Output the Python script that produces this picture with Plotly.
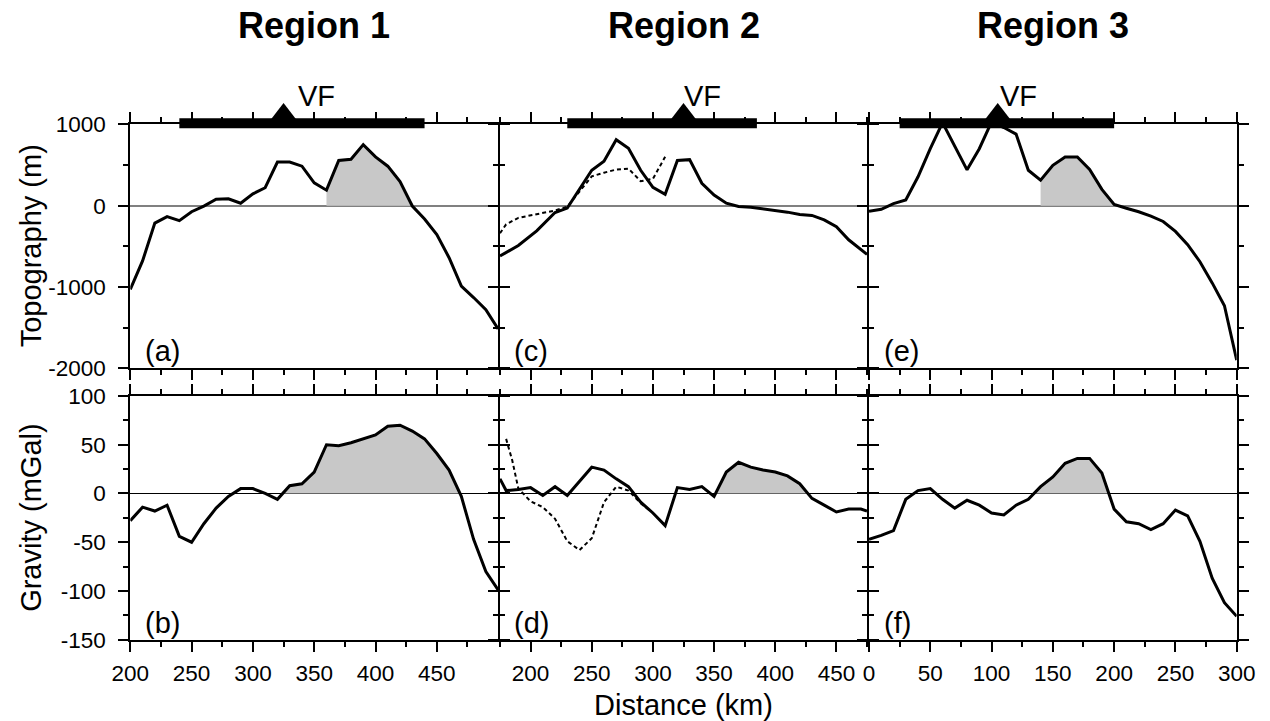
import numpy as np
import plotly.graph_objects as go

W, H = 1270, 721
FONT = "Liberation Sans, Arial, Helvetica, sans-serif"

# ---------------- data ----------------
regions = ["Region 1", "Region 2", "Region 3"]
panel_letters = ["(a)", "(b)", "(c)", "(d)", "(e)", "(f)"]

r1_x = [200, 210, 220, 230, 240, 250, 260, 270, 280, 290, 300, 310, 320, 330, 340, 350,
        360, 370, 380, 390, 400, 410, 420, 430, 440, 450, 460, 470, 480, 490, 500]
r1_topo = [-1030, -680, -215, -135, -185, -75, -5, 80, 85, 30, 145, 220, 535, 535, 485, 280,
           190, 555, 570, 750, 600, 485, 295, -5, -165, -355, -640, -990, -1130, -1280, -1515]
r1_grav = [-28, -14, -18, -12, -44, -50, -31, -15, -3, 5, 5, 0, -6, 8, 10, 22,
           50, 49, 52, 56, 60, 69, 70, 64, 56, 41, 24, -3, -47, -80, -99]

r2_topo_x = [175, 190, 205, 220, 230, 240, 250, 260, 270, 280, 290, 300, 310, 320, 330, 340,
             350, 360, 370, 380, 390, 400, 410, 420, 430, 440, 450, 460, 475]
r2_topo = [-620, -490, -310, -85, -30, 210, 435, 545, 810, 705, 435, 225, 140, 555, 565, 275,
           130, 30, -10, -20, -40, -55, -80, -110, -120, -175, -260, -420, -600]
r2_topo_alt_x = [175, 180, 190, 200, 210, 220, 230, 240, 250, 260, 270, 280, 290, 300, 310]
r2_topo_alt = [-340, -230, -150, -118, -95, -60, -12, 170, 360, 405, 443, 455, 300, 330, 600]

r2_grav_x = [175, 180, 190, 200, 210, 220, 230, 240, 250, 260, 270, 280, 290, 300, 310, 320,
             330, 340, 350, 360, 370, 380, 390, 400, 410, 420, 430, 440, 450, 460, 470, 475]
r2_grav = [15, 3, 4, 6, -2, 7, -2, 12, 27, 24, 15, 7, -9, -20, -33, 6,
           4, 7, -3, 22, 32, 27, 24, 22, 18, 10, -5, -12, -19, -16, -16, -18]
r2_grav_alt_x = [180, 185, 190, 200, 210, 220, 230, 240, 250, 260, 270, 280, 290, 300]
r2_grav_alt = [56, 34, 5, -8, -14, -26, -49, -58, -46, -9, 7, 3, -10, -20]

r3_x = [0, 10, 20, 30, 40, 50, 60, 70, 80, 90, 100, 110, 120, 130, 140, 150,
        160, 170, 180, 190, 200, 210, 220, 230, 240, 250, 260, 270, 280, 290, 300]
r3_topo = [-70, -45, 25, 70, 355, 700, 1020, 730, 440, 700, 1030, 960, 880, 435, 313, 496,
           598, 598, 444, 200, 15, -32, -75, -130, -195, -317, -480, -690, -950, -1230, -1900]
r3_grav = [-47, -43, -38, -6, 3, 5, -6, -15, -7, -12, -20, -22, -12, -6, 7, 17,
           31, 36, 36, 21, -16, -29, -31, -37, -31, -17, -23, -49, -87, -112, -126]

# shaded intervals (km) per panel a..f (None = no shading)
shade_ranges = [(360, 440), (320, 480), None, (350, 440), (140, 210), (130, 200)]

# volcanic front bars (km) and VF triangle location per region
vf_bar = [(240, 440), (230, 385), (25, 200)]
vf_pos = [325, 325, 105]

x_ranges = [(200, 499.9), (175, 475), (0, 300)]
topo_range = (-2000, 1000)
grav_range = (-150, 100)
topo_ticks = [-2000, -1000, 0, 1000]
topo_ticktext = ["-2000", "-1000", "0", "1000"]
grav_ticks = [-150, -100, -50, 0, 50, 100]
grav_ticktext = ["-150", "-100", "-50", "0", "50", "100"]

# ---------------- geometry (pixels, frame-line centres) ----------------
col_px = [(129.3, 499.0), (499.0, 868.0), (868.0, 1237.7)]
row_px = [(123.3, 369.3), (395.0, 640.7)]
LW = 2  # frame line width; plotly draws frame lines outside the domain


def xdom(c):
    a, b = col_px[c]
    return [(a + LW / 2) / W, (b - LW / 2) / W]


def ydom(r):
    a, b = row_px[r]
    return [1 - (b - LW / 2) / H, 1 - (a + LW / 2) / H]


def shade_polygon(x, y, x0, x1):
    x = np.asarray(x, float)
    y = np.asarray(y, float)
    pts = [(x0, float(np.interp(x0, x, y)))]
    pts += [(xi, yi) for xi, yi in zip(x, y) if x0 < xi < x1]
    pts.append((x1, float(np.interp(x1, x, y))))
    out = []
    for i, (xa, ya) in enumerate(pts):
        if i > 0:
            xp, yp = pts[i - 1]
            if (yp > 0) != (ya > 0) and yp != ya:
                t = yp / (yp - ya)
                out.append((xp + t * (xa - xp), 0.0))
        out.append((xa, max(ya, 0.0)))
    px = [p[0] for p in out] + [out[-1][0], out[0][0], out[0][0]]
    py = [p[1] for p in out] + [0.0, 0.0, out[0][1]]
    return px, py


fig = go.Figure()

panels = [
    (0, 0, r1_x, r1_topo, None, None),
    (1, 0, r1_x, r1_grav, None, None),
    (0, 1, r2_topo_x, r2_topo, r2_topo_alt_x, r2_topo_alt),
    (1, 1, r2_grav_x, r2_grav, r2_grav_alt_x, r2_grav_alt),
    (0, 2, r3_x, r3_topo, None, None),
    (1, 2, r3_x, r3_grav, None, None),
]

for k, (r, c, sx, sy, dx, dy) in enumerate(panels):
    idx = r * 3 + c + 1
    xa = "x" if idx == 1 else f"x{idx}"
    ya = "y" if idx == 1 else f"y{idx}"
    sr = shade_ranges[k]
    if sr is not None:
        px, py = shade_polygon(sx, sy, sr[0], sr[1])
        fig.add_trace(go.Scatter(x=px, y=py, mode="lines", fill="toself",
                                 fillcolor="rgb(200,200,200)", line=dict(width=0),
                                 xaxis=xa, yaxis=ya, hoverinfo="skip"))
    if dx is not None:
        fig.add_trace(go.Scatter(x=dx, y=dy, mode="lines",
                                 line=dict(color="black", width=2, dash="4px,3px"),
                                 xaxis=xa, yaxis=ya))
    fig.add_trace(go.Scatter(x=sx, y=sy, mode="lines",
                             line=dict(color="black", width=3),
                             xaxis=xa, yaxis=ya))

layout = dict(
    width=W, height=H,
    margin=dict(l=0, r=0, t=0, b=0, autoexpand=False),
    paper_bgcolor="white",
    plot_bgcolor="rgba(0,0,0,0)",
    showlegend=False,
    font=dict(family=FONT, color="black"),
)

annotations = []
for r in range(2):
    for c in range(3):
        idx = r * 3 + c + 1
        sfx = "" if idx == 1 else str(idx)
        layout["xaxis" + sfx] = dict(
            domain=xdom(c), range=list(x_ranges[c]), anchor="y" + sfx,
            showline=True, linewidth=LW, linecolor="black", mirror="ticks",
            ticks="outside", ticklen=10, tickwidth=2, tickcolor="black",
            tickmode="linear", tick0=0, dtick=50,
            minor=dict(ticks="outside", ticklen=5, tickwidth=1.5, tickcolor="black",
                       tickmode="linear", tick0=0, dtick=25),
            showticklabels=(r == 1), tickfont=dict(size=22.5, family=FONT),
            ticklabelstandoff=2,
            showgrid=False, zeroline=False, fixedrange=True, automargin=False,
        )
        layout["yaxis" + sfx] = dict(
            domain=ydom(r), range=list(topo_range if r == 0 else grav_range),
            anchor="x" + sfx,
            showline=True, linewidth=LW, linecolor="black", mirror="ticks",
            ticks="outside", ticklen=10, tickwidth=2, tickcolor="black",
            tickmode="array",
            tickvals=(topo_ticks if r == 0 else grav_ticks),
            ticktext=(topo_ticktext if r == 0 else grav_ticktext),
            minor=dict(ticks="outside", ticklen=5, tickwidth=1.5, tickcolor="black",
                       tickmode="linear", tick0=0, dtick=(500 if r == 0 else 25)),
            showticklabels=(c == 0), tickfont=dict(size=22.5, family=FONT),
            ticklabelstandoff=8,
            showgrid=False, zeroline=True,
            zerolinecolor=("rgb(128,128,128)" if r == 0 else "black"),
            zerolinewidth=(1.5 if r == 0 else 1), fixedrange=True, automargin=False,
        )
        annotations.append(dict(
            text=panel_letters[c * 2 + r], xref=("x" + sfx) + " domain",
            yref=("y" + sfx) + " domain",
            x=0.034, y=0.07, xanchor="left", yanchor="middle", showarrow=False,
            font=dict(size=29, family=FONT)))

# VF strip axes (thin invisible axes centred on the top frame line of row 1)
top = row_px[0][0]
for c in range(3):
    sfx = str(7 + c)
    xa = "x" if c == 0 else f"x{c + 1}"
    layout["yaxis" + sfx] = dict(domain=[1 - (top + 30) / H, 1 - (top - 30) / H],
                                 range=[-30, 30], anchor=xa, visible=False,
                                 fixedrange=True, automargin=False)
    fig.add_trace(go.Scatter(x=list(vf_bar[c]), y=[0, 0], mode="lines",
                             line=dict(color="black", width=10),
                             xaxis=xa, yaxis="y" + sfx))
    fig.add_trace(go.Scatter(x=[vf_pos[c]], y=[8.4], mode="markers",
                             marker=dict(symbol="triangle-up", size=24, color="black",
                                         line=dict(width=0)),
                             xaxis=xa, yaxis="y" + sfx))
    annotations.append(dict(
        text="VF", xref=xa, yref="y" + sfx, x=vf_pos[c], y=27,
        xshift=[12, -2, 0][c], xanchor="left", yanchor="middle", showarrow=False,
        font=dict(size=29, family=FONT)))
    annotations.append(dict(
        text="<b>" + regions[c] + "</b>", xref=xa + " domain", yref="paper",
        x=0.5, y=1 - 26 / H, xanchor="center", yanchor="middle", showarrow=False,
        font=dict(size=36, family=FONT)))

annotations.append(dict(text="Topography (m)", textangle=-90, xref="paper", yref="paper",
                        x=31 / W, y=1 - sum(row_px[0]) / 2 / H, xanchor="center",
                        yanchor="middle", showarrow=False, font=dict(size=29, family=FONT)))
annotations.append(dict(text="Gravity (mGal)", textangle=-90, xref="paper", yref="paper",
                        x=31 / W, y=1 - sum(row_px[1]) / 2 / H, xanchor="center",
                        yanchor="middle", showarrow=False, font=dict(size=29, family=FONT)))
annotations.append(dict(text="Distance (km)", xref="paper", yref="paper",
                        x=(col_px[1][0] + col_px[1][1]) / 2 / W, y=1 - 705 / H,
                        xanchor="center", yanchor="middle", showarrow=False,
                        font=dict(size=29, family=FONT)))

layout["annotations"] = annotations
fig.update_layout(**layout)
fig.write_html("out.html")
